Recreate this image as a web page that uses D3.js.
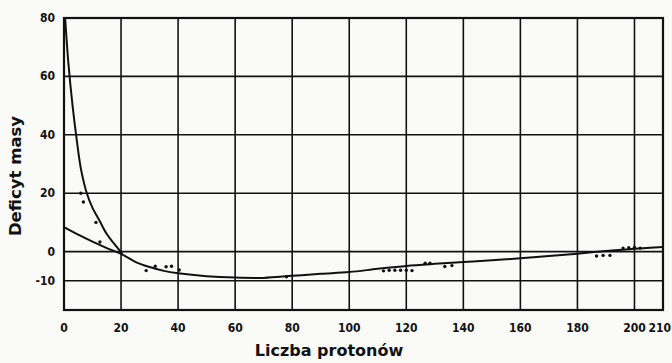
<!DOCTYPE html>
<html lang="pl">
<head>
    <meta charset="UTF-8">
    <script src="https://d3js.org/d3.v7.min.js"></script>
    <style>
        body { margin: 0; background: #fafaf8; }
        svg { display: block; }
        .tick-label { font-family: "DejaVu Sans Condensed", "DejaVu Sans", sans-serif; font-weight: bold; font-size: 12px; fill: #111; }
        .axis-title { font-family: "DejaVu Sans", Arial, sans-serif; font-weight: bold; fill: #111; }
    </style>
</head>
<body>
    <svg width="672" height="363"></svg>
    <script>
        // górna krzywa (lekkie jądra)
        const upperX = [0.4, 1.5, 3, 4.5, 6, 8, 10, 12.5, 15, 17.5, 20.5];
        const upperY = [80, 65, 50, 38, 28, 20, 15, 10.5, 6, 2.8, -0.8];

        // dolna krzywa
        const lowerX = [0, 5, 10, 15, 20, 25, 30, 35, 40, 50, 60, 70, 80, 90, 100, 110, 120, 130, 140, 150, 160, 170, 180, 190, 200, 210];
        const lowerY = [8.4, 5.8, 3.4, 1.2, -0.8, -3.5, -5.3, -6.6, -7.4, -8.4, -8.9, -9.0, -8.3, -7.6, -7.0, -5.9, -4.9, -4.2, -3.6, -3.0, -2.3, -1.5, -0.7, 0.2, 1.0, 1.6];

        // punkty pomiarowe
        const pointX = [5.9, 6.8, 11.2, 12.6, 28.8, 32, 35.8, 37.7, 40.4, 78, 112, 114, 116, 118, 120, 122, 126.6, 128.3, 133.5, 136, 186.7, 189, 191.4, 196, 198, 200, 202];
        const pointY = [20, 17, 10, 3.3, -6.5, -5, -5.2, -5, -6.3, -8.6, -6.6, -6.4, -6.4, -6.4, -6.4, -6.5, -4, -4, -5.1, -4.8, -1.5, -1.3, -1.3, 1.2, 1.3, 1.4, 1.2];

        const xTicks = [0, 20, 40, 60, 80, 100, 120, 140, 160, 180, 200, 210];
        const yTicks = [80, 60, 40, 20, 0, -10];

        const svg = d3.select("svg");
        const margin = { left: 64, right: 663, top: 18, bottom: 310 };

        const x = d3.scaleLinear().domain([0, 210]).range([margin.left, margin.right]);
        const y = d3.scaleLinear().domain([-20, 80]).range([margin.bottom, margin.top]);

        const grid = svg.append("g").attr("stroke", "#111").attr("stroke-width", 1.6);

        grid.selectAll(".vgrid")
            .data(xTicks)
            .enter().append("line")
            .attr("x1", d => x(d)).attr("x2", d => x(d))
            .attr("y1", y(80)).attr("y2", y(-20));

        grid.selectAll(".hgrid")
            .data(yTicks.concat([-20]))
            .enter().append("line")
            .attr("x1", x(0)).attr("x2", x(210))
            .attr("y1", d => y(d)).attr("y2", d => y(d));

        // ramka
        svg.append("rect")
            .attr("x", x(0)).attr("y", y(80))
            .attr("width", x(210) - x(0)).attr("height", y(-20) - y(80))
            .attr("fill", "none").attr("stroke", "#111").attr("stroke-width", 2.2);

        // etykiety osi
        svg.selectAll(".xl")
            .data(xTicks)
            .enter().append("text")
            .attr("class", "tick-label")
            .attr("x", d => d === 210 ? 671 : x(d))
            .attr("y", 332)
            .attr("text-anchor", d => d === 210 ? "end" : "middle")
            .text(d => d);

        svg.selectAll(".yl")
            .data(yTicks)
            .enter().append("text")
            .attr("class", "tick-label")
            .attr("x", 55)
            .attr("y", d => y(d) + 4)
            .attr("text-anchor", "end")
            .text(d => d);

        const line = d3.line()
            .x(d => x(d[0]))
            .y(d => y(d[1]))
            .curve(d3.curveCatmullRom);

        svg.append("path")
            .datum(upperX.map((d, i) => [d, upperY[i]]))
            .attr("d", line)
            .attr("fill", "none").attr("stroke", "#111").attr("stroke-width", 2);

        svg.append("path")
            .datum(lowerX.map((d, i) => [d, lowerY[i]]))
            .attr("d", line)
            .attr("fill", "none").attr("stroke", "#111").attr("stroke-width", 2);

        svg.selectAll(".pt")
            .data(pointX.map((d, i) => [d, pointY[i]]))
            .enter().append("circle")
            .attr("cx", d => x(d[0]))
            .attr("cy", d => y(d[1]))
            .attr("r", 1.7)
            .attr("fill", "#111");

        svg.append("text")
            .attr("class", "axis-title")
            .attr("transform", "translate(21,176) rotate(-90)")
            .attr("text-anchor", "middle")
            .attr("font-size", "16.5px")
            .text("Deficyt masy");

        svg.append("text")
            .attr("class", "axis-title")
            .attr("x", 329)
            .attr("y", 356)
            .attr("text-anchor", "middle")
            .attr("font-size", "16px")
            .text("Liczba protonów");
    </script>
</body>
</html>
